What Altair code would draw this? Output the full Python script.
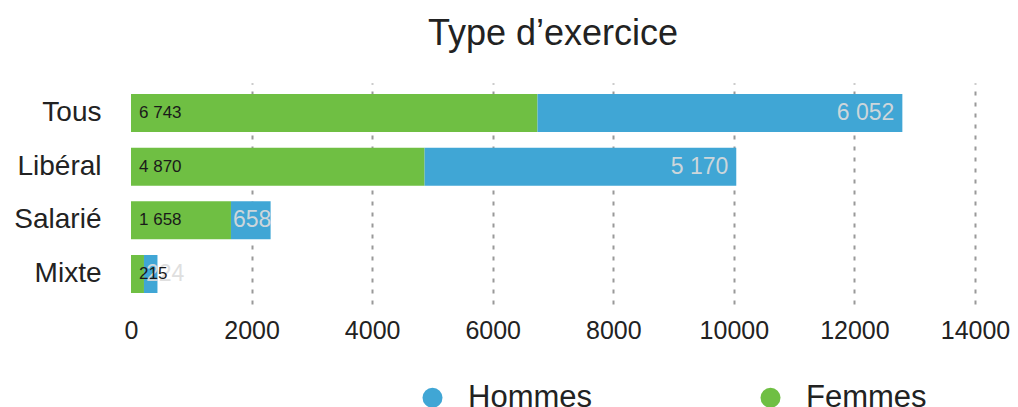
import altair as alt
import pandas as pd

types = ["Tous", "Libéral", "Salarié", "Mixte"]
femmes = [6743, 4870, 1658, 215]
hommes = [6052, 5170, 658, 224]
series = ["Hommes", "Femmes"]
colors = ["#40A6D5", "#6FBF43"]
x_ticks = [0, 2000, 4000, 6000, 8000, 10000, 12000, 14000]

rows = []
for t, f, h in zip(types, femmes, hommes):
    rows.append({"type": t, "sexe": "Femmes", "valeur": f, "ordre": 0})
    rows.append({"type": t, "sexe": "Hommes", "valeur": h, "ordre": 1})
df = pd.DataFrame(rows)

FONT = "Liberation Sans"
TXT = "#222222"

base = alt.Chart(df).transform_stack(
    stack="valeur", groupby=["type"], as_=["x0", "x1"],
    sort=[alt.SortField("ordre", order="ascending")],
).transform_calculate(
    lab="replace(format(datum.valeur, ',d'), ',', ' ')"
)

yenc = alt.Y("type:N", sort=types, title=None,
             scale=alt.Scale(paddingInner=0.292, paddingOuter=0.205),
             axis=alt.Axis(ticks=False, domain=False, labelPadding=30,
                           labelFontSize=28, labelFont=FONT, labelFontWeight="normal",
                           labelColor=TXT))

xenc = alt.X("x0:Q", title=None,
             scale=alt.Scale(domain=[0, 14000], nice=False),
             axis=alt.Axis(values=x_ticks, format="d", domain=False, ticks=False,
                           labelFontSize=25, labelFont=FONT,
                           labelColor=TXT, labelPadding=14, labelFlush=False,
                           grid=True, gridColor="#999999", gridWidth=2,
                           gridDash=[4, 7],
                           gridOpacity={"condition": {"test": "datum.value === 0", "value": 0}, "value": 1}))

bars = base.mark_bar().encode(
    x=xenc,
    x2="x1:Q",
    y=yenc,
    color=alt.Color("sexe:N", scale=alt.Scale(domain=series, range=colors),
                    legend=alt.Legend(title=None, orient="none", legendX=286, legendY=299,
                                      direction="horizontal", symbolType="circle",
                                      symbolSize=400, symbolStrokeWidth=0,
                                      labelFontSize=31, labelFont=FONT,
                                      labelColor=TXT, labelOffset=20,
                                      columnPadding=162)),
)

lab_f = base.transform_filter("datum.sexe === 'Femmes'").mark_text(
    align="left", baseline="middle", dx=8, fontSize=17, font=FONT, color="#1a1a1a"
).encode(x="x0:Q", y=alt.Y("type:N", sort=types), text="lab:N")

lab_h_big = base.transform_filter("datum.sexe === 'Hommes' && datum.valeur > 3000").mark_text(
    align="right", baseline="middle", dx=-8, fontSize=23, font=FONT,
    color="#dcdcdc", opacity=0.9
).encode(x="x1:Q", y=alt.Y("type:N", sort=types), text="lab:N")

lab_h_small = base.transform_filter("datum.sexe === 'Hommes' && datum.valeur <= 3000").mark_text(
    align="left", baseline="middle", dx=2, fontSize=23, font=FONT,
    color="#dcdcdc", opacity=0.9
).encode(x="x0:Q", y=alt.Y("type:N", sort=types), text="lab:N")

chart = alt.layer(bars, lab_h_big, lab_h_small, lab_f).properties(
    width=844, height=221,
    title=alt.TitleParams("Type d’exercice", fontSize=36, font=FONT, fontWeight="normal",
                          color=TXT, anchor="middle", offset=30),
    autosize=alt.AutoSizeParams(type="none"),
    padding={"left": 123, "top": 75, "right": 35, "bottom": 103},
).configure_view(stroke=None)

chart.save("out.html", embed_options={"renderer": "svg", "actions": False})
